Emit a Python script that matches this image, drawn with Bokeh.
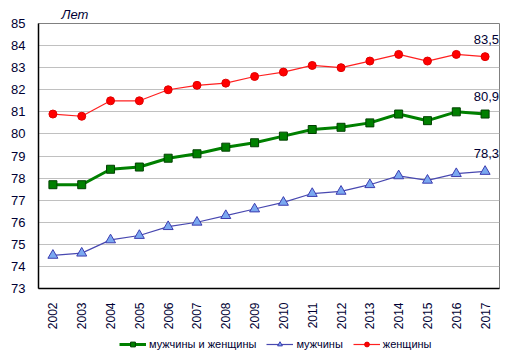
from bokeh.plotting import figure
from bokeh.models import ColumnDataSource, Legend, LegendItem, FixedTicker, Label, Range1d
from bokeh.layouts import column
from bokeh.embed import file_html
from bokeh.resources import INLINE

years = [2002, 2003, 2004, 2005, 2006, 2007, 2008, 2009, 2010, 2011, 2012, 2013, 2014, 2015, 2016, 2017]
both = [77.7, 77.7, 78.4, 78.5, 78.9, 79.1, 79.4, 79.6, 79.9, 80.2, 80.3, 80.5, 80.9, 80.6, 81.0, 80.9]
men = [74.5, 74.6, 75.2, 75.4, 75.8, 76.0, 76.3, 76.6, 76.9, 77.3, 77.4, 77.7, 78.1, 77.9, 78.2, 78.3]
women = [80.9, 80.8, 81.5, 81.5, 82.0, 82.2, 82.3, 82.6, 82.8, 83.1, 83.0, 83.3, 83.6, 83.3, 83.6, 83.5]
y_ticks = [73, 74, 75, 76, 77, 78, 79, 80, 81, 82, 83, 84, 85]
last_labels = ["83,5", "80,9", "78,3"]
series_names = ["мужчины и женщины", "мужчины", "женщины"]
unit_label = "Лет"

FONT = "Liberation Sans"
TXT = "#000033"

LINE_BOTH = dict(line_color="#008000", line_width=3)
MARK_BOTH = dict(marker="square", size=8, fill_color="#008000", line_color="#004000", line_width=1)
LINE_MEN = dict(line_color="#4848b0", line_width=1.2)
MARK_MEN = dict(marker="triangle", size=10, fill_color="#7aa8f0", line_color="#3c3cb0", line_width=1)
LINE_WOMEN = dict(line_color="#ff2020", line_width=1.2)
MARK_WOMEN = dict(marker="circle", size=8, fill_color="#ff0000", line_color="#e00000", line_width=1)

src = ColumnDataSource(dict(x=years, both=both, men=men, women=women))

p = figure(width=507, height=334, output_backend="svg", toolbar_location=None,
           x_range=Range1d(2001.5, 2017.5), y_range=Range1d(73, 85),
           min_border_left=38, min_border_right=8, min_border_top=23, min_border_bottom=46)
p.outline_line_color = "#808080"
p.outline_line_width = 1

p.title.text = unit_label
p.title.align = "left"
p.title.offset = 23
p.title.standoff = 4
p.title.text_font = FONT
p.title.text_font_style = "italic"
p.title.text_font_size = "13px"
p.title.text_color = TXT

p.xgrid.grid_line_color = None
p.ygrid.grid_line_color = "#c0c0c0"
p.ygrid.grid_line_width = 1

p.yaxis.ticker = FixedTicker(ticks=y_ticks)
p.yaxis.axis_line_color = "black"
p.yaxis.axis_line_width = 1.5
p.yaxis.major_tick_line_color = None
p.yaxis.minor_tick_line_color = None
p.yaxis.major_label_text_font = FONT
p.yaxis.major_label_text_font_size = "13px"
p.yaxis.major_label_text_color = TXT
p.yaxis.major_label_standoff = 7

p.xaxis.ticker = FixedTicker(ticks=years)
p.xaxis.axis_line_color = "black"
p.xaxis.axis_line_width = 1.5
p.xaxis.major_tick_line_color = None
p.xaxis.minor_tick_line_color = None
p.xaxis.major_label_orientation = 1.5708
p.xaxis.major_label_text_font = FONT
p.xaxis.major_label_text_font_size = "12px"
p.xaxis.major_label_text_color = TXT
p.xaxis.major_label_standoff = 8

p.line("x", "both", source=src, **LINE_BOTH)
p.scatter("x", "both", source=src, **MARK_BOTH)
p.line("x", "men", source=src, **LINE_MEN)
p.scatter("x", "men", source=src, **MARK_MEN)
p.line("x", "women", source=src, **LINE_WOMEN)
p.scatter("x", "women", source=src, **MARK_WOMEN)

# end-of-series value labels
for val, txt in zip([women[-1], both[-1], men[-1]], last_labels):
    p.add_layout(Label(x=years[-1], y=val, text=txt, x_offset=14, y_offset=13,
                       text_align="right", text_baseline="bottom",
                       text_font=FONT, text_font_size="13px", text_color=TXT))

# legend strip below the chart (series drawn off-range so only legend glyphs show)
lg = figure(width=507, height=22, output_backend="svg", toolbar_location=None,
            x_range=Range1d(0, 1), y_range=Range1d(0, 1),
            x_axis_location=None, y_axis_location=None,
            min_border_left=0, min_border_right=0, min_border_top=0, min_border_bottom=0)
lg.grid.visible = False
lg.outline_line_color = None
r1 = [lg.line("x", "both", source=src, **LINE_BOTH), lg.scatter("x", "both", source=src, **MARK_BOTH)]
r2 = [lg.line("x", "men", source=src, **LINE_MEN), lg.scatter("x", "men", source=src, **MARK_MEN)]
r3 = [lg.line("x", "women", source=src, **LINE_WOMEN), lg.scatter("x", "women", source=src, **MARK_WOMEN)]

legend = Legend(items=[LegendItem(label=series_names[0], renderers=r1),
                       LegendItem(label=series_names[1], renderers=r2),
                       LegendItem(label=series_names[2], renderers=r3)],
                orientation="horizontal", location=(81, 6))
legend.label_text_font = FONT
legend.label_text_font_size = "11px"
legend.label_text_color = TXT
legend.glyph_width = 27
legend.glyph_height = 12
legend.label_height = 12
legend.label_standoff = 3
legend.spacing = 10
legend.border_line_color = None
legend.background_fill_alpha = 0
legend.padding = 2
legend.margin = 0
lg.add_layout(legend)

layout = column(p, lg, spacing=0)
open("out.html", "w").write(file_html(layout, INLINE))
